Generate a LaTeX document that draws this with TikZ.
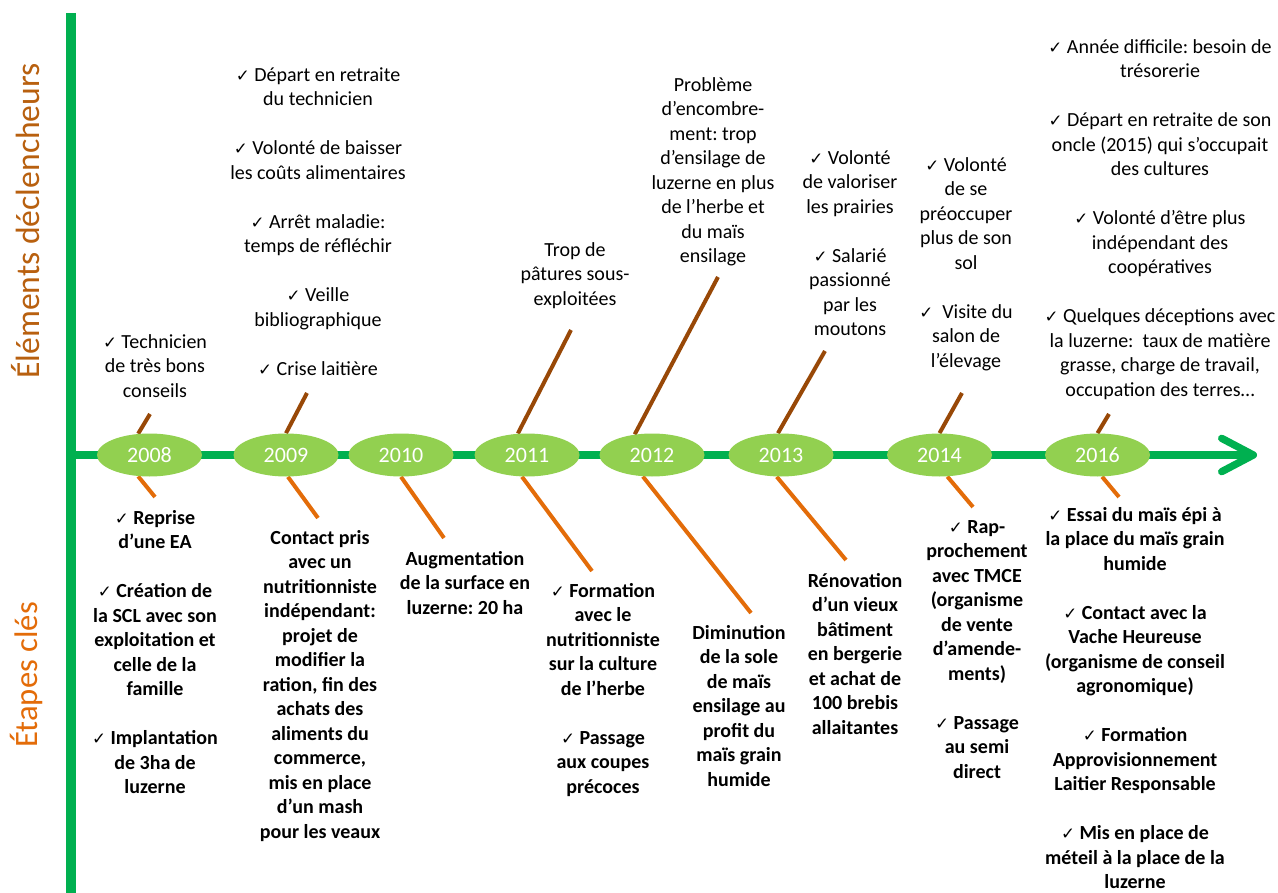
\documentclass[tikz,border=0pt]{standalone}
\usepackage{fontspec}
\setmainfont{Carlito}
\newfontfamily\symfont{DejaVu Sans}
\usepackage{tikz}
\usetikzlibrary{arrows.meta,shapes.geometric,backgrounds}
\frenchspacing

\definecolor{barGreen}{HTML}{00B050}
\definecolor{yearGreen}{HTML}{92D050}
\definecolor{trigBrown}{HTML}{984807}
\definecolor{trigLabel}{HTML}{B8600F}
\definecolor{stepOrange}{HTML}{E36C09}

\newcommand{\ok}{{\symfont\fontsize{10}{10}\selectfont ✓} }

\begin{document}
\begin{tikzpicture}[x=0.6pt, y=-0.6pt,
        trig/.style={font=\fontsize{12}{14.7}\selectfont, align=center,
              inner sep=0pt, anchor=north},
        keystep/.style={font=\fontsize{12}{14.7}\selectfont\bfseries, align=center,
              inner sep=0pt, anchor=north},
        year/.style={ellipse, fill=yearGreen, minimum width=63pt, minimum height=25.8pt,
              inner sep=0pt, text=white, font=\fontsize{13.2}{14}\selectfont},
        trigline/.style={trigBrown, line width=2.4pt},
        stepline/.style={stepOrange, line width=2.4pt},
    ]
        \useasboundingbox (0,0) rectangle (1278,893);

        % Side labels
        \node[rotate=90, text=trigLabel, font=\fontsize{20.2}{24}\selectfont] (lblTrig) at (26,221)
              {Éléments déclencheurs};
        \node[rotate=90, text=stepOrange, font=\fontsize{19.6}{24}\selectfont] (lblStep) at (26,675)
              {Étapes clés};

        % Time axis
        \coordinate (barTop) at (70.5,13);
        \coordinate (barBot) at (70.5,893);
        \coordinate (axStart) at (75,455);
        \coordinate (axEnd) at (1257,455);
        \draw[barGreen, line width=6pt] (barTop) -- (barBot);
        \draw[barGreen, line width=4.4pt, line cap=round,
              -{Straight Barb[length=19pt, width=20pt, round]}] (axStart) -- (axEnd);

        % Years
        \node[year] (y08) at (149.5,455) {2008};
        \node[year] (y09) at (286,455) {2009};
        \node[year] (y10) at (401,455) {2010};
        \node[year] (y11) at (527,455) {2011};
        \node[year] (y12) at (652,455) {2012};
        \node[year] (y13) at (781,455) {2013};
        \node[year] (y14) at (939.5,455) {2014};
        \node[year] (y16) at (1097.5,455) {2016};

        % Trigger elements (above)
        \node[trig] (trig08) at (155,334)
              {\ok Technicien\\de très bons\\conseils};
        \node[trig] (trig09) at (318,67)
              {\ok Départ en retraite\\du technicien\\[14.7pt]
               \ok Volonté de baisser\\les coûts alimentaires\\[14.7pt]
               \ok Arrêt maladie:\\temps de réfléchir\\[14.7pt]
               \ok Veille\\bibliographique\\[14.7pt]
               \ok Crise laitière};
        \node[trig] (trig11) at (575,242)
              {Trop de\\pâtures sous-\\exploitées};
        \node[trig] (trig12) at (713,77)
              {Problème\\d’encombre-\\ment: trop\\d’ensilage de\\luzerne en plus\\de l’herbe et\\du maïs\\ensilage};
        \node[trig] (trig13) at (850,150)
              {\ok Volonté\\de valoriser\\les prairies\\[14.7pt]
               \ok Salarié\\passionné\\par les\\moutons};
        \node[trig] (trig14) at (966,157)
              {\ok Volonté\\de se\\préoccuper\\plus de son\\sol\\[14.7pt]
               \ok\ Visite du\\salon de\\l’élevage};
        \node[trig] (trig16) at (1160,39)
              {\ok Année difficile: besoin de\\trésorerie\\[14.7pt]
               \ok Départ en retraite de son\\oncle (2015) qui s’occupait\\des cultures\\[14.7pt]
               \ok Volonté d’être plus\\indépendant des\\coopératives\\[14.7pt]
               \ok Quelques déceptions avec\\la luzerne:~ taux de matière\\grasse, charge de travail,\\occupation des terres…};

        % Key steps (below)
        \node[keystep] (step08) at (155,510)
              {\ok Reprise\\d’une EA\\[14.7pt]
               \ok Création de\\la SCL avec son\\exploitation et\\celle de la\\famille\\[14.7pt]
               \ok Implantation\\de 3ha de\\luzerne};
        \node[keystep] (step09) at (320,530)
              {Contact pris\\avec un\\nutritionniste\\indépendant:\\projet de\\modifier la\\ration, fin des\\achats des\\aliments du\\commerce,\\mis en place\\d’un mash\\pour les veaux};
        \node[keystep] (step10) at (465,551)
              {Augmentation\\de la surface en\\luzerne: 20 ha};
        \node[keystep] (step11) at (603,583)
              {\ok Formation\\avec le\\nutritionniste\\sur la culture\\de l’herbe\\[14.7pt]
               \ok Passage\\aux coupes\\précoces};
        \node[keystep] (step12) at (739,625)
              {Diminution\\de la sole\\de maïs\\ensilage au\\profit du\\maïs grain\\humide};
        \node[keystep] (step13) at (855,573)
              {Rénovation\\d’un vieux\\bâtiment\\en bergerie\\et achat de\\100 brebis\\allaitantes};
        \node[keystep] (step14) at (977,520)
              {\ok Rap-\\prochement\\avec TMCE\\(organisme\\de vente\\d’amende-\\ments)\\[14.7pt]
               \ok Passage\\au semi\\direct};
        \node[keystep] (step16) at (1135,507)
              {\ok Essai du maïs épi à\\la place du maïs grain\\humide\\[14.7pt]
               \ok Contact avec la\\Vache Heureuse\\(organisme de conseil\\agronomique)\\[14.7pt]
               \ok Formation\\Approvisionnement\\Laitier Responsable\\[14.7pt]
               \ok Mis en place de\\méteil à la place de la\\luzerne};

        % Line ends
        \coordinate (tt08) at (150,414);
        \coordinate (tt09) at (307,393);
        \coordinate (tt11) at (571,330);
        \coordinate (tt12) at (718,277);
        \coordinate (tt13) at (825,351);
        \coordinate (tt14) at (962,393);
        \coordinate (tt16) at (1109,414);
        \coordinate (ts08) at (155,497);
        \coordinate (ts09) at (318,518);
        \coordinate (ts10) at (444,538);
        \coordinate (ts11) at (592,571);
        \coordinate (ts12) at (751,613);
        \coordinate (ts13) at (846,560);
        \coordinate (ts14) at (973,507);
        \coordinate (ts16) at (1119,497);

        % Lines
        \begin{scope}[on background layer]
        \draw[trigline] (y08.118) -- (tt08);
        \draw[trigline] (y09.90) -- (tt09);
        \draw[trigline] (y11.113) -- (tt11);
        \draw[trigline] (y12.130) -- (tt12);
        \draw[trigline] (y13.98) -- (tt13);
        \draw[trigline] (y14.90) -- (tt14);
        \draw[trigline] (y16.90) -- (tt16);
        \draw[stepline] (y08.242) -- (ts08);
        \draw[stepline] (y09.275) -- (ts09);
        \draw[stepline] (y10.270) -- (ts10);
        \draw[stepline] (y11.257) -- (ts11);
        \draw[stepline] (y12.247) -- (ts12);
        \draw[stepline] (y13.259) -- (ts13);
        \draw[stepline] (y14.290) -- (ts14);
        \draw[stepline] (y16.282) -- (ts16);
        \end{scope}
    \end{tikzpicture}
\end{document}
